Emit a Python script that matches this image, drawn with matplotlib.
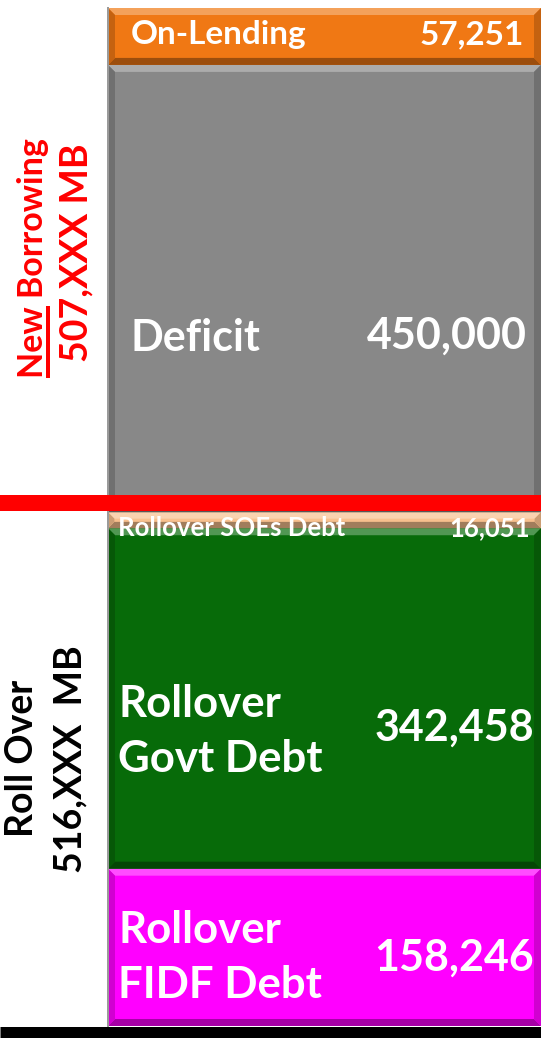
import matplotlib
matplotlib.use("Agg")
import matplotlib.pyplot as plt
from matplotlib import transforms
from matplotlib.patches import Polygon
from matplotlib.lines import Line2D
import matplotlib.colors as mcolors
import numpy as np

# ---------------- data ----------------
segment_labels = ["Rollover\nFIDF Debt", "Rollover\nGovt Debt", "Rollover SOEs Debt",
                  "Deficit", "On-Lending"]
segment_values = [158246, 342458, 16051, 450000, 57251]
segment_groups = ["rollover", "rollover", "rollover", "new", "new"]
segment_colors = ["#FF00FF", "#076B09", "#F8C08E", "#888888", "#F07814"]

group_names = ["New Borrowing", "Roll Over"]
group_totals = ["507,XXX MB", "516,XXX  MB"]
group_colors = ["#FF0000", "#000000"]

# ---------------- styles ----------------
label_sizes = [31.5, 31.5, 18.5, 31, 24]
value_sizes = [31, 31, 18.5, 31, 24]
label_inset = [10, 10, 10, 22, 23]        # px from bar left
value_inset = [7, 7, 11, 14, 17]          # px from bar right
label_dy = [10, 33, 8, 49, -2]            # px offset (down positive) from segment centre
value_dy = [10, 29, 8, 47, -2]
label_spacing = 1.46

FONT = "Lato"
W, H = 541, 1038
fig = plt.figure(figsize=(W / 100, H / 100), dpi=100)
fig.patch.set_facecolor("white")

bar_left_px = 108
ax = fig.add_axes([bar_left_px / W, 12 / H, (W - bar_left_px) / W, 1018 / H])
total = float(np.sum(segment_values))
ax.set_xlim(0, 1)
ax.set_ylim(0, total)
ax.axis("off")

bottoms = np.concatenate([[0], np.cumsum(segment_values)[:-1]])
bars = ax.bar(0.5, segment_values, bottom=bottoms, width=1.0,
              color=segment_colors, edgecolor="none", zorder=1)

# bevel effect
fig.canvas.draw()
ident = transforms.IdentityTransform()


def mix(c, other, t):
    a = np.array(mcolors.to_rgb(c))
    b = np.array(mcolors.to_rgb(other))
    return tuple(a * (1 - t) + b * t)


for p, c in zip(bars.patches, segment_colors):
    bb = p.get_window_extent()
    x0, y0, x1, y1 = bb.x0, bb.y0, bb.x1, bb.y1
    b = min(7, (y1 - y0) / 2.5)
    polys = [
        ([(x0, y1), (x1, y1), (x1 - b, y1 - b), (x0 + b, y1 - b)], mix(c, "white", 0.30)),
        ([(x0, y0), (x1, y0), (x1 - b, y0 + b), (x0 + b, y0 + b)], mix(c, "black", 0.35)),
        ([(x0, y0), (x0 + b, y0 + b), (x0 + b, y1 - b), (x0, y1)], mix(c, "black", 0.18)),
        ([(x1, y0), (x1 - b, y0 + b), (x1 - b, y1 - b), (x1, y1)], mix(c, "black", 0.18)),
    ]
    for verts, col in polys:
        ax.add_patch(Polygon(verts, closed=True, transform=ident, facecolor=col,
                             edgecolor="none", zorder=2, clip_on=False))

# segment labels and values
px = 72 / 100  # points per pixel
for i, (lab, val) in enumerate(zip(segment_labels, segment_values)):
    yc = bottoms[i] + val / 2
    ax.annotate(lab, xy=(0, yc), xycoords=("axes fraction", "data"),
                xytext=(label_inset[i] * px, -label_dy[i] * px), textcoords="offset points",
                ha="left", va="center", color="white", fontsize=label_sizes[i],
                fontfamily=FONT, fontweight="bold", linespacing=label_spacing, zorder=5)
    ax.annotate(f"{val:,}", xy=(1, yc), xycoords=("axes fraction", "data"),
                xytext=(-value_inset[i] * px, -value_dy[i] * px), textcoords="offset points",
                ha="right", va="center", color="white", fontsize=value_sizes[i],
                fontfamily=FONT, fontweight="bold", zorder=5)

# separator lines
new_start = float(np.sum([v for v, g in zip(segment_values, segment_groups) if g == "rollover"]))
full_w = transforms.blended_transform_factory(fig.transFigure, ax.transData)
red_tr = full_w + transforms.ScaledTranslation(0, 9 / 100, fig.dpi_scale_trans)
ax.add_line(Line2D([0, 1], [new_start, new_start], transform=red_tr, color="#FF0000",
                   linewidth=16 * px, solid_capstyle="butt", clip_on=False, zorder=6))
blk_tr = full_w + transforms.ScaledTranslation(0, -6.5 / 100, fig.dpi_scale_trans)
ax.add_line(Line2D([0, 1], [0, 0], transform=blk_tr, color="#000000",
                   linewidth=13 * px, solid_capstyle="butt", clip_on=False, zorder=6))

# thin left border of plot area
ax.add_line(Line2D([0, 0], [0, 1], transform=ax.transAxes, color="#9A9A9A",
                   linewidth=2 * px, clip_on=False, zorder=3))

# group labels on the left
new_mid = new_start + (total - new_start) / 2
roll_mid = new_start / 2
name_x = [33, 22]
tot_x = [76, 70]
mids = [new_mid, roll_mid]
name_dy = [-2, -11]
tot_dy = [-7, -10]
name_sizes = [24.5, 27]
tot_sizes = [27, 27]
left_tr = transforms.blended_transform_factory(fig.transFigure, ax.transData)
name_texts = []
for k in range(2):
    t1 = fig.text(name_x[k] / W, mids[k], group_names[k], rotation=90, ha="center", va="center",
                  color=group_colors[k], fontsize=name_sizes[k], fontfamily=FONT,
                  fontweight="bold", transform=left_tr + transforms.ScaledTranslation(0, -name_dy[k] / 100, fig.dpi_scale_trans))
    name_texts.append(t1)
    fig.text(tot_x[k] / W, mids[k], group_totals[k], rotation=90, ha="center", va="center",
             color=group_colors[k], fontsize=tot_sizes[k], fontfamily=FONT,
             fontweight="bold", transform=left_tr + transforms.ScaledTranslation(0, -tot_dy[k] / 100, fig.dpi_scale_trans))

# underline "New"
fig.canvas.draw()
r = fig.canvas.get_renderer()
t = name_texts[0]
bb = t.get_window_extent(r)
probe = fig.text(0, 0, group_names[0].split()[0], fontsize=name_sizes[0], fontfamily=FONT,
                 fontweight="bold")
wnew = probe.get_window_extent(r).width
probe.remove()
ux = bb.x1 - 1
fig.add_artist(Line2D([ux, ux], [bb.y0, bb.y0 + wnew], transform=ident, color=group_colors[0],
                      linewidth=4 * px, solid_capstyle="butt"))

fig.savefig("out.png", dpi=100, facecolor="white")
